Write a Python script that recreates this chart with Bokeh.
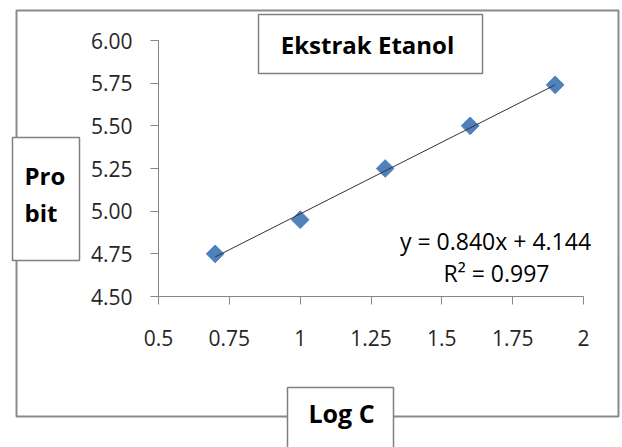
import math
from bokeh.plotting import figure
from bokeh.models import Range1d, FixedTicker, Label, BoxAnnotation
from bokeh.embed import file_html
from bokeh.resources import INLINE

# ---- data ----
log_c = [0.7, 1.0, 1.3, 1.6, 1.9]
probit = [4.75, 4.95, 5.25, 5.50, 5.74]
slope = 0.840
intercept = 4.144
r_squared = 0.997

x_ticks = [0.5, 0.75, 1.0, 1.25, 1.5, 1.75, 2.0]
x_tick_labels = ["0.5", "0.75", "1", "1.25", "1.5", "1.75", "2"]
y_ticks = [4.5, 4.75, 5.0, 5.25, 5.5, 5.75, 6.0]
y_tick_labels = ["4.50", "4.75", "5.00", "5.25", "5.50", "5.75", "6.00"]

title_text = "Ekstrak Etanol"
y_title_lines = ["Pro", "bit"]
x_title_text = "Log C"
eq_text = "y = %.3fx + %.3f" % (slope, intercept)
r2_text = "R\u00b2 = %.3f" % r_squared

# ---- layout constants (canvas pixels) ----
W, H = 622, 447
PL, PR, PT, PB = 158, 583, 40, 296   # plot-area edges in canvas pixels
FONT = "Open Sans"
GRAY = "#868686"
BOX = "#808080"

# the frame fills the whole canvas; ranges are chosen so that the
# axis bounds land on the plot-area edges
x0, x1 = x_ticks[0], x_ticks[-1]
y0, y1 = y_ticks[0], y_ticks[-1]
xs = (x1 - x0) / (PR - PL)
ys = (y1 - y0) / (PB - PT)
x_range = Range1d(x0 - PL * xs, x1 + (W - PR) * xs)
y_range = Range1d(y0 - (H - PB) * ys, y1 + PT * ys)

p = figure(width=W, height=H, output_backend="svg", toolbar_location=None,
           x_range=x_range, y_range=y_range,
           min_border_left=0, min_border_right=0,
           min_border_top=0, min_border_bottom=0)
p.title.visible = False
p.outline_line_color = None
p.background_fill_color = "white"
p.border_fill_color = "white"
p.xgrid.visible = False
p.ygrid.visible = False

for ax, ticks, labels, loc in ((p.xaxis[0], x_ticks, x_tick_labels, y0),
                               (p.yaxis[0], y_ticks, y_tick_labels, x0)):
    ax.fixed_location = loc
    ax.bounds = (ticks[0], ticks[-1])
    ax.ticker = FixedTicker(ticks=ticks)
    ax.major_label_overrides = {t: l for t, l in zip(ticks, labels)}
    ax.axis_line_color = GRAY
    ax.axis_line_width = 1
    ax.major_tick_line_color = GRAY
    ax.major_tick_out = 8
    ax.major_tick_in = 0
    ax.minor_tick_line_color = None
    ax.major_label_text_font = FONT
    ax.major_label_text_font_size = "21px"
    ax.major_label_text_color = "#262626"
p.yaxis[0].major_label_standoff = 18
p.xaxis[0].major_label_standoff = 25

p.scatter(log_c, probit, marker="square", angle=math.pi / 4, size=12.5,
          fill_color="#4F81BD", line_color="#4F81BD")
fx = [log_c[0], log_c[-1]]
p.line(fx, [slope * v + intercept for v in fx], line_color="#333333", line_width=1)


def box(l, t, r, b, lw, color, fill):
    p.add_layout(BoxAnnotation(left=l, right=r, top=H - t, bottom=H - b,
                               left_units="screen", right_units="screen",
                               top_units="screen", bottom_units="screen",
                               line_color=color, line_width=lw, line_alpha=1,
                               fill_color=fill if fill else "white",
                               fill_alpha=1 if fill else 0))


def text(cx, cy, s, size, bold=False, align="center"):
    p.add_layout(Label(x=cx, y=H - cy, x_units="screen", y_units="screen",
                       text=s, text_font=FONT, text_font_size=size,
                       text_font_style="bold" if bold else "normal",
                       text_color="black", text_align=align,
                       text_baseline="alphabetic"))


# outer chart border
box(16, 10, 618, 416, 2, "#8a8a8a", None)
# title / axis-title boxes
box(258, 14, 482, 73, 1.5, BOX, "white")
box(12, 137, 79, 260, 1.5, BOX, "white")
box(287, 387, 393, 470, 1.5, BOX, "white")

text(367, 44, title_text, "24px", bold=True)
text(24, 175, y_title_lines[0], "24px", bold=True, align="left")
text(24, 212, y_title_lines[1], "24px", bold=True, align="left")
text(341, 412, x_title_text, "25px", bold=True)
text(495, 240, eq_text, "23px")
text(496, 272, r2_text, "23px")

open("out.html", "w").write(file_html(p, INLINE))
